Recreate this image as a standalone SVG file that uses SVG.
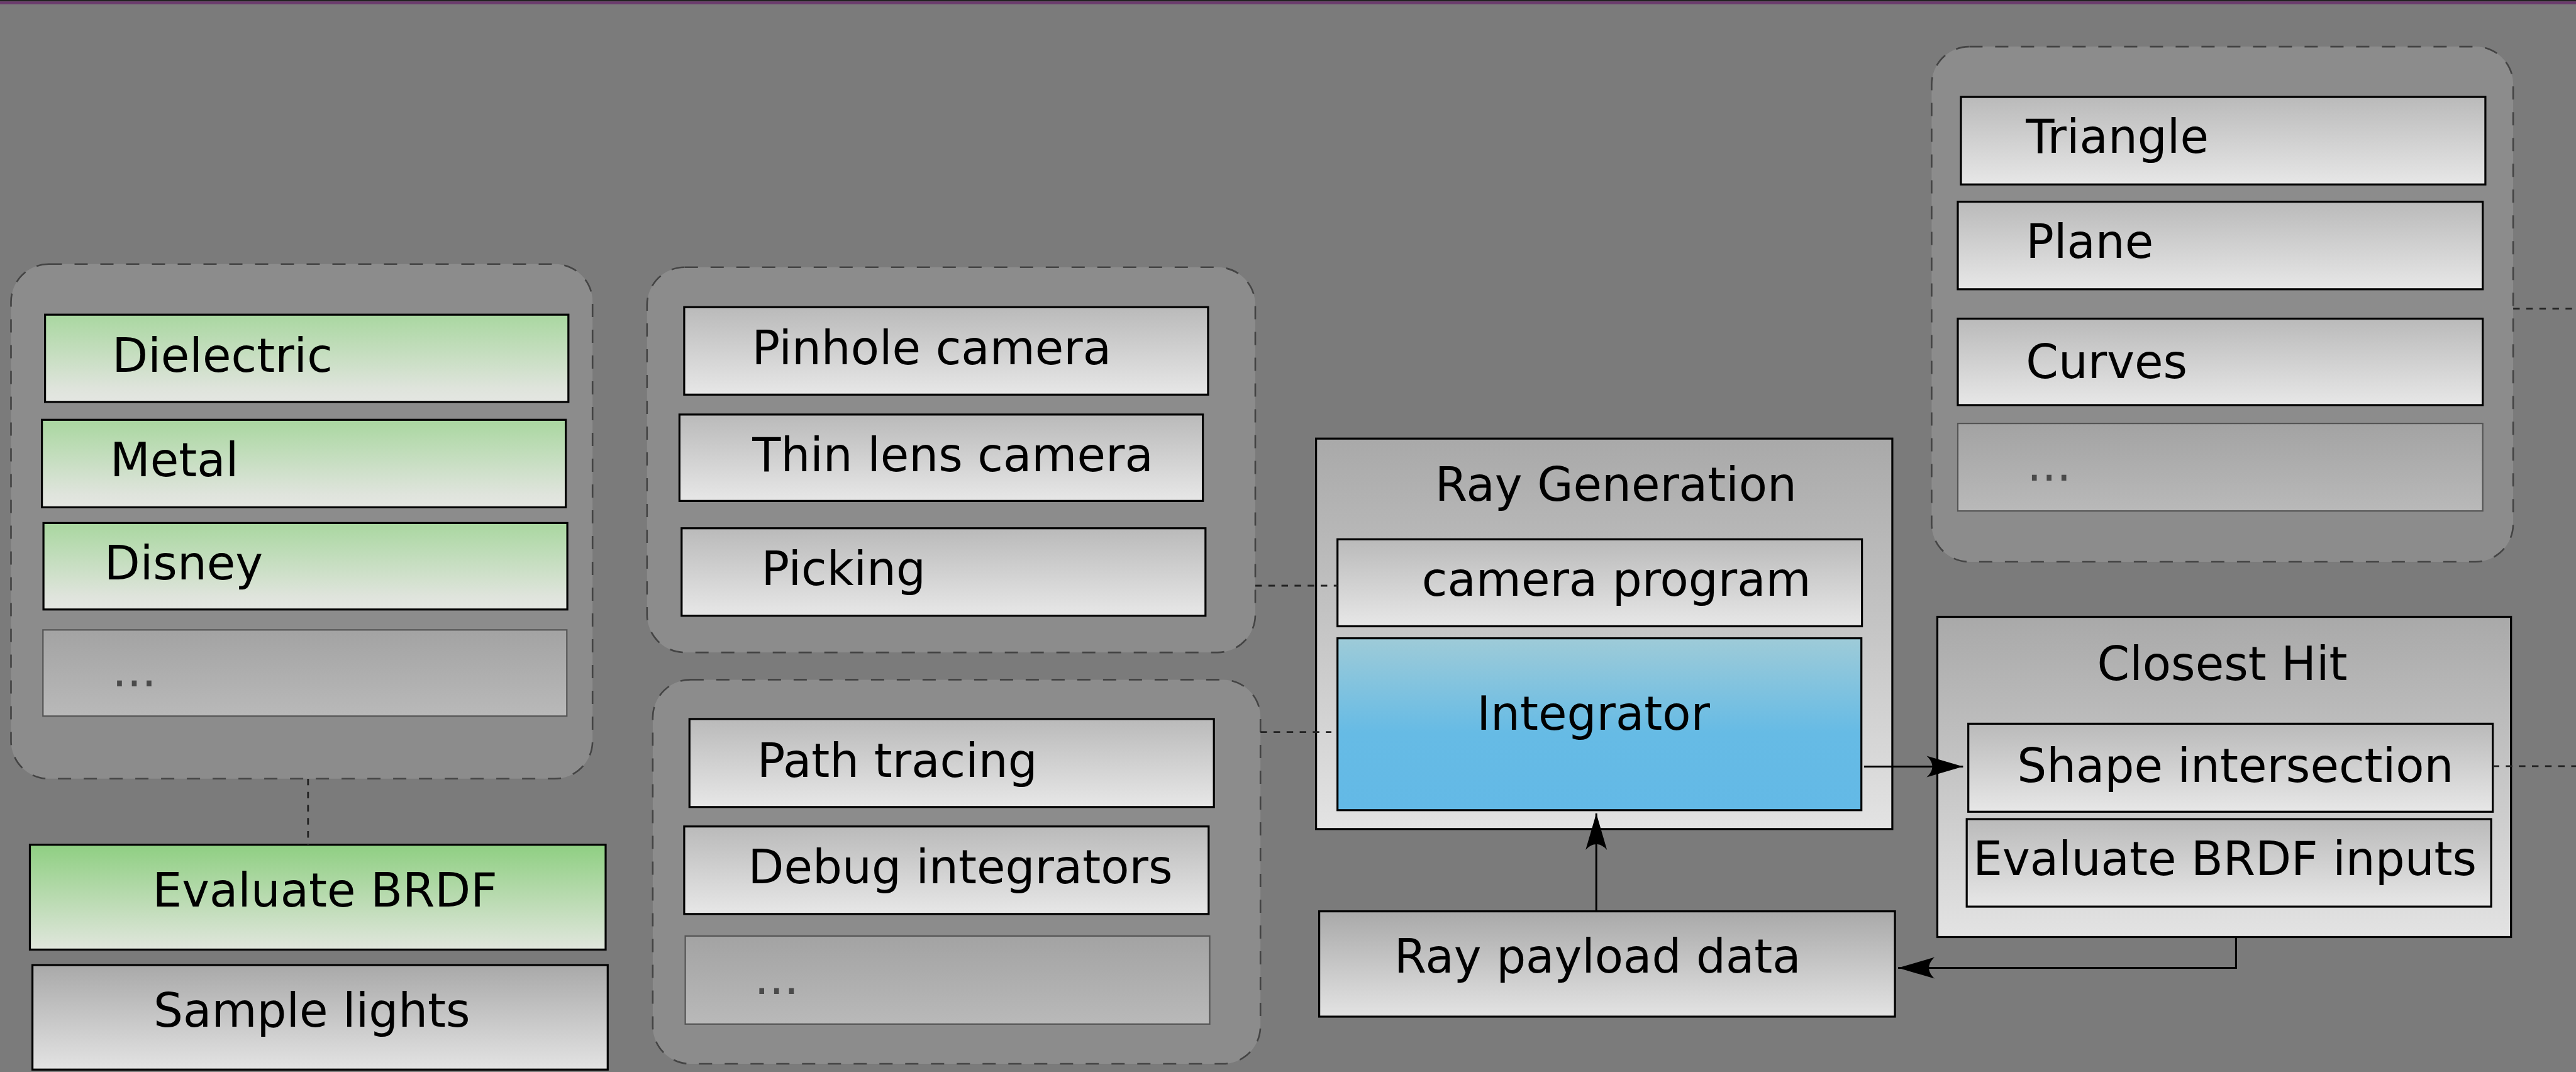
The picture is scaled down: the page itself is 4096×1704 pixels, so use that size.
<svg xmlns="http://www.w3.org/2000/svg" width="4096" height="1704" viewBox="0 0 4096 1704">
<defs>
<linearGradient id="gGray" x1="0" y1="0" x2="0" y2="1"><stop offset="0" stop-color="#bababa"/><stop offset="1" stop-color="#e7e7e7"/></linearGradient>
<linearGradient id="gDark" x1="0" y1="0" x2="0" y2="1"><stop offset="0" stop-color="#a9a9a9"/><stop offset="1" stop-color="#e3e3e3"/></linearGradient>
<linearGradient id="gDots" x1="0" y1="0" x2="0" y2="1"><stop offset="0" stop-color="#a3a3a3"/><stop offset="1" stop-color="#b9b9b9"/></linearGradient>
<linearGradient id="gGreen" x1="0" y1="0" x2="0" y2="1"><stop offset="0" stop-color="#a9d7a0"/><stop offset="0.85" stop-color="#dfe4dc"/><stop offset="1" stop-color="#e4e6e2"/></linearGradient>
<linearGradient id="gGreen2" x1="0" y1="0" x2="0" y2="1"><stop offset="0" stop-color="#8fcf82"/><stop offset="1" stop-color="#e1e6dd"/></linearGradient>
<linearGradient id="gBlue" x1="0" y1="0" x2="0" y2="1"><stop offset="0" stop-color="#9ecbd8"/><stop offset="0.55" stop-color="#66bbe5"/><stop offset="1" stop-color="#63b9e6"/></linearGradient>
<marker id="arr" viewBox="-60 -20 62 40" refX="0" refY="0" markerWidth="62" markerHeight="40" markerUnits="userSpaceOnUse" orient="auto" overflow="visible">
<path d="M0,0 L-58,-17 C-46,-6 -46,6 -58,17 Z" fill="#000"/>
</marker>
<style>
.grp{fill:#8c8c8c;stroke:#444;stroke-width:2.6;stroke-dasharray:21 20}
.box{stroke:#000;stroke-width:3.2}
.dots{fill:url(#gDots);stroke:#555;stroke-width:2.2}
text{font-family:"DejaVu Sans","Liberation Sans",sans-serif;font-size:74px;fill:#000}
.ell{fill:#4a4a4a}
.dot{fill:none;stroke:#222;stroke-width:2.8;stroke-dasharray:10.4 10.4}
.arrow{fill:none;stroke:#000;stroke-width:3}
</style>
</defs>
<rect x="0" y="0" width="4096" height="1704" fill="#7b7b7b"/>
<rect x="0" y="0" width="4096" height="2.3" fill="#222"/>
<rect x="0" y="2.3" width="4096" height="4.4" fill="#6b3b6d"/>

<g id="materials">
<rect class="grp" x="17.5" y="419.8" width="924.7" height="818" rx="60"/>
<g id="dielectric"><rect class="box" x="71.6" y="500.2" width="832.2" height="138.7" fill="url(#gGreen)"/><text x="178.3" y="591.1">Dielectric</text></g>
<g id="metal"><rect class="box" x="66.6" y="667.3" width="833" height="139.1" fill="url(#gGreen)"/><text x="174.9" y="757.2">Metal</text></g>
<g id="disney"><rect class="box" x="69.1" y="831.4" width="833" height="137.4" fill="url(#gGreen)"/><text x="165.8" y="921.1">Disney</text></g>
<g id="materials-more"><rect class="dots" x="68.3" y="1001.3" width="833" height="137"/><text class="ell" x="178.3" y="1090.8">...</text></g>
</g>

<g id="evaluate-brdf"><rect class="box" x="47.5" y="1342.8" width="915.5" height="166.6" fill="url(#gGreen2)" stroke-width="2.4"/><text x="242.4" y="1441.1">Evaluate BRDF</text></g>
<g id="sample-lights"><rect class="box" x="51.6" y="1534" width="914.7" height="166.2" fill="url(#gDark)" stroke-width="2.4"/><text x="244.1" y="1631.9">Sample lights</text></g>

<g id="cameras">
<rect class="grp" x="1028.8" y="424.8" width="967.2" height="612.3" rx="60"/>
<g id="pinhole"><rect class="box" x="1087.9" y="488.2" width="833" height="139.1" fill="url(#gGray)"/><text x="1195.4" y="579">Pinhole camera</text></g>
<g id="thinlens"><rect class="box" x="1080.4" y="658.9" width="832.2" height="137.4" fill="url(#gGray)"/><text x="1196.2" y="748.9">Thin lens camera</text></g>
<g id="picking"><rect class="box" x="1083.8" y="839.7" width="833" height="139.1" fill="url(#gGray)"/><text x="1210.4" y="929.7">Picking</text></g>
</g>

<g id="integrators">
<rect class="grp" x="1037.9" y="1080.4" width="966.3" height="610.6" rx="60"/>
<g id="pathtracing"><rect class="box" x="1096.3" y="1142.9" width="833.9" height="139.9" fill="url(#gGray)"/><text x="1203.7" y="1234.6">Path tracing</text></g>
<g id="debug"><rect class="box" x="1087.9" y="1313.7" width="833.9" height="139.1" fill="url(#gGray)"/><text x="1189.6" y="1403.7">Debug integrators</text></g>
<g id="integrators-more"><rect class="dots" x="1089.6" y="1487.8" width="833.9" height="140"/><text class="ell" x="1199.6" y="1580.3">...</text></g>
</g>

<g id="ray-generation">
<rect class="box" x="2092.6" y="697.2" width="916.3" height="620.6" fill="url(#gDark)"/>
<text x="2281.7" y="796.4">Ray Generation</text>
<g id="camera-program"><rect class="box" x="2126.7" y="857.2" width="833.9" height="138.3" fill="url(#gGray)"/><text x="2260.8" y="947.2">camera program</text></g>
<g id="integrator"><rect class="box" x="2126.7" y="1014.6" width="833" height="273.2" fill="url(#gBlue)"/><text x="2348.3" y="1159.6">Integrator</text></g>
</g>

<g id="shapes">
<rect class="grp" x="3071.4" y="74.1" width="924.7" height="818.9" rx="60"/>
<g id="triangle"><rect class="box" x="3118" y="154.1" width="833.9" height="139.1" fill="url(#gGray)"/><text x="3221.3" y="243.2">Triangle</text></g>
<g id="plane"><rect class="box" x="3113" y="320.7" width="834.7" height="139.1" fill="url(#gGray)"/><text x="3221.3" y="409.8">Plane</text></g>
<g id="curves"><rect class="box" x="3113" y="506.5" width="834.7" height="137.4" fill="url(#gGray)"/><text x="3221.3" y="601.4">Curves</text></g>
<g id="shapes-more"><rect class="dots" x="3113" y="673.1" width="834.7" height="139.1"/><text class="ell" x="3223" y="763.9">...</text></g>
</g>

<g id="closest-hit">
<rect class="box" x="3080.5" y="980.5" width="912.2" height="509" fill="url(#gDark)" stroke-width="2.4"/>
<text x="3334.6" y="1081.3">Closest Hit</text>
<g id="shape-intersection"><rect class="box" x="3129.7" y="1150.4" width="833.9" height="139.9" fill="url(#gGray)"/><text x="3207.2" y="1242.9">Shape intersection</text></g>
<g id="brdf-inputs"><rect class="box" x="3127.2" y="1302" width="833.9" height="139.1" fill="url(#gGray)"/><text x="3137.2" y="1391.2">Evaluate BRDF inputs</text></g>
</g>

<g id="ray-payload"><rect class="box" x="2097.6" y="1448.6" width="915.5" height="167.4" fill="url(#gDark)" stroke="#333" stroke-width="2.4"/><text x="2216.7" y="1546.1">Ray payload data</text></g>

<g id="connectors">
<path class="dot" d="M489.8,1237.9 V1342.8"/>
<path class="dot" d="M1996,931 H2126.7"/>
<path class="dot" d="M2004.2,1163.7 H2117"/>
<path class="dot" d="M3996.1,490.7 H4096"/>
<path class="dot" d="M3963.6,1217.9 H4096"/>
<path class="arrow" d="M2963.9,1218.5 H3121.4" marker-end="url(#arr)"/>
<path class="arrow" d="M2538.2,1448.6 V1292.9" marker-end="url(#arr)"/>
<path class="arrow" d="M3555.4,1489.5 V1538.6 H3018.1" marker-end="url(#arr)"/>
</g>
</svg>
